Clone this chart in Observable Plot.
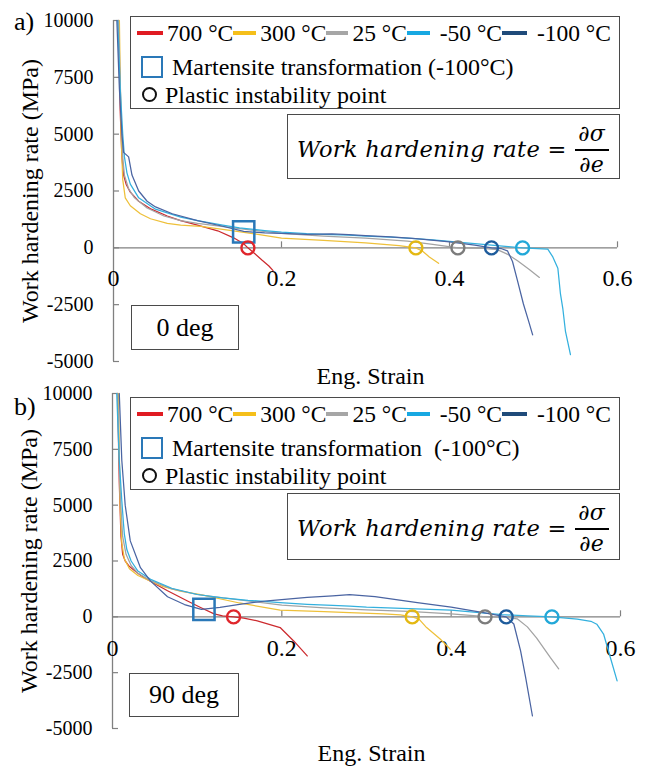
<!DOCTYPE html>
<html><head><meta charset="utf-8">
<script src="https://cdn.jsdelivr.net/npm/d3@7"></script>
<script src="https://cdn.jsdelivr.net/npm/@observablehq/plot@0.6"></script>
<style>
body{margin:0;background:#fff;}
#wrap{position:relative;width:653px;height:767px;font-family:"Liberation Serif","Times New Roman",serif;color:#000;overflow:hidden;}
.pnl{position:absolute;left:0;}
.box{position:absolute;border:1.5px solid #4a4a4a;background:#fff;box-sizing:border-box;}
.sw{position:absolute;height:4px;}
.t{position:absolute;white-space:pre;line-height:26px;height:26px;font-family:"Liberation Serif","Times New Roman",serif;}
.row{position:absolute;display:flex;align-items:center;height:26px;white-space:pre;font-family:"Liberation Serif","Times New Roman",serif;font-size:23.5px;line-height:26px;}
.row .s{height:4px;margin-right:4px;}
.fx{font-family:"DejaVu Serif",serif;font-style:italic;}
</style></head>
<body><div id="wrap"></div>
<script>
// ---------------- data ----------------
const seriesNames = ["700 °C", "300 °C", "25 °C", " -50 °C", " -100 °C"];
const lineColors = ["#cc2a2e", "#eec03a", "#a3a3a3", "#33b0de", "#4a64a2"];
const legendColors = ["#e01b22", "#f5bf1a", "#a6a6a6", "#17a8e2", "#1f4b7a"];
const markerColors = ["#e0262c", "#e4b812", "#7c7c7c", "#22a8d8", "#1e5c9c"];
const xTicks = [0, 0.2, 0.4, 0.6];
const xTickLabels = ["0", "0.2", "0.4", "0.6"];
const yTicks = [10000, 7500, 5000, 2500, 0, -2500, -5000];
const yTickLabels = ["10000", "7500", "5000", "2500", "0", "-2500", "-5000"];
const yTitle = "Work hardening rate (MPa)";
const xTitle = "Eng. Strain";
const legendMartensite = ["Martensite transformation (-100°C)", "Martensite transformation  (-100°C)"];
const legendInstability = "Plastic instability point";
const panelTags = ["a)", "b)"];
const panelDeg = ["0 deg", "90 deg"];

// panel a) 0 deg : [engineering strain, work hardening rate MPa]
const a700 = [[0.006,10000],[0.008,6000],[0.010,4000],[0.012,3200],[0.015,2800],[0.02,2450],[0.03,2050],[0.045,1700],[0.064,1400],[0.08,1200],[0.1,1000],[0.124,750],[0.143,440],[0.155,180],[0.16,0],[0.168,-250],[0.177,-550],[0.185,-800],[0.19,-1000]];
const a300 = [[0.007,10000],[0.009,5000],[0.011,3000],[0.014,2200],[0.02,1850],[0.032,1500],[0.044,1280],[0.064,1080],[0.08,1000],[0.104,940],[0.143,750],[0.17,600],[0.2,430],[0.25,330],[0.3,220],[0.34,100],[0.36,0],[0.368,-150],[0.376,-400],[0.387,-680]];
const a25 = [[0.006,10000],[0.009,6000],[0.011,4000],[0.013,3200],[0.018,2600],[0.025,2200],[0.04,1750],[0.06,1400],[0.08,1200],[0.1,1080],[0.15,840],[0.2,640],[0.25,520],[0.3,430],[0.35,300],[0.38,150],[0.41,0],[0.44,-20],[0.457,-80],[0.47,-300],[0.481,-570],[0.495,-950],[0.507,-1300]];
const aM50 = [[0.005,10000],[0.008,7000],[0.011,5000],[0.013,4000],[0.016,3300],[0.02,2800],[0.03,2200],[0.05,1700],[0.08,1350],[0.1,1200],[0.13,1000],[0.15,880],[0.18,760],[0.2,690],[0.23,620],[0.25,590],[0.28,560],[0.3,520],[0.33,470],[0.35,430],[0.38,350],[0.4,280],[0.43,180],[0.45,120],[0.47,50],[0.487,0],[0.505,-30],[0.517,-60],[0.523,-400],[0.529,-900],[0.532,-2000],[0.535,-2700],[0.538,-3660],[0.544,-4700]];
const aM100 = [[0.004,10000],[0.007,7000],[0.01,5000],[0.012,4200],[0.018,4000],[0.022,3200],[0.03,2500],[0.04,2050],[0.05,1800],[0.07,1500],[0.1,1200],[0.13,950],[0.155,720],[0.18,660],[0.2,640],[0.23,590],[0.26,610],[0.28,580],[0.3,540],[0.33,480],[0.36,400],[0.4,260],[0.43,120],[0.45,0],[0.462,-40],[0.469,-130],[0.475,-600],[0.481,-1450],[0.488,-2470],[0.494,-3200],[0.499,-3830]];
const aInstability = [0.16, 0.36, 0.41, 0.487, 0.45];
const aMartensite = [[0.155, 700]];

// panel b) 90 deg
const b700 = [[0.006,10000],[0.008,6000],[0.01,3600],[0.012,2800],[0.015,2500],[0.02,2250],[0.03,1950],[0.037,1760],[0.05,1480],[0.065,1170],[0.088,720],[0.104,420],[0.12,130],[0.13,40],[0.143,0],[0.155,-60],[0.171,-180],[0.198,-480],[0.214,-1080],[0.23,-1750]];
const b300 = [[0.007,10000],[0.009,5000],[0.011,3300],[0.014,2600],[0.02,2150],[0.03,1850],[0.045,1600],[0.06,1350],[0.08,1150],[0.104,990],[0.15,620],[0.198,300],[0.25,230],[0.28,190],[0.32,130],[0.34,90],[0.354,0],[0.362,-100],[0.371,-480],[0.387,-990],[0.399,-1450]];
const b25 = [[0.006,10000],[0.009,5500],[0.012,3600],[0.016,2800],[0.022,2300],[0.03,1950],[0.045,1620],[0.07,1250],[0.1,1000],[0.15,760],[0.2,520],[0.25,400],[0.3,310],[0.35,240],[0.4,130],[0.43,40],[0.44,0],[0.465,-20],[0.478,-90],[0.49,-450],[0.501,-950],[0.517,-1820],[0.527,-2330]];
const bM50 = [[0.005,10000],[0.008,7000],[0.011,5200],[0.013,4170],[0.014,3700],[0.017,3000],[0.022,2500],[0.03,2050],[0.045,1680],[0.07,1280],[0.1,1000],[0.13,850],[0.16,740],[0.198,640],[0.23,560],[0.26,510],[0.28,480],[0.3,430],[0.35,370],[0.4,300],[0.43,200],[0.46,100],[0.49,40],[0.519,0],[0.549,-100],[0.565,-200],[0.572,-330],[0.58,-770],[0.588,-1820],[0.596,-2870]];
const bM100 = [[0.008,10000],[0.011,7000],[0.015,5000],[0.021,3400],[0.033,2200],[0.045,1600],[0.065,900],[0.085,550],[0.105,330],[0.127,420],[0.15,560],[0.183,720],[0.23,870],[0.26,940],[0.28,990],[0.31,900],[0.36,640],[0.4,430],[0.438,190],[0.465,0],[0.474,-320],[0.482,-1520],[0.488,-2720],[0.496,-4440]];
const bInstability = [0.143, 0.354, 0.44, 0.519, 0.465];
const bMartensite = [[0.108, 330]];

// ---------------- layout ----------------
const serif = "Liberation Serif";
const panels = [
  {top: 0, height: 385, mt: 20, mb: 24, ml: 113, mr: 36, curves: [a700, a300, a25, aM50, aM100], inst: aInstability, mart: aMartensite, xdy: 30, titleDy: 15,
   legTop: 16, fTop: 114, fH: 65, degTop: 305, degH: 45, degLeft: 131, degW: 108, tagTop: 8},
  {top: 385, height: 382, mt: 8, mb: 39, ml: 112, mr: 33, curves: [b700, b300, b25, bM50, bM100], inst: bInstability, mart: bMartensite, xdy: 31, titleDy: 25,
   legTop: 397, fTop: 493, fH: 67, degTop: 673, degH: 44, degLeft: 129, degW: 110, tagTop: 393}
];
const axisGray = "#808080";
const wrap = document.getElementById("wrap");

function el(cls, css, text, parent) {
  const d = document.createElement("div");
  d.className = cls;
  d.style.cssText = css;
  if (text != null) d.textContent = text;
  (parent || wrap).appendChild(d);
  return d;
}

panels.forEach((p, k) => {
  const lineMarks = p.curves.map((c, i) => Plot.line(c, {x: d => d[0], y: d => d[1], stroke: lineColors[i], strokeWidth: 1.25}));
  const instMarks = p.inst.map((s, i) => Plot.dot([s], {x: d => d, y: 0, r: 6.5, stroke: markerColors[i], strokeWidth: 2.4}));
  const chart = Plot.plot({
    width: 653, height: p.height,
    marginTop: p.mt, marginBottom: p.mb, marginLeft: p.ml, marginRight: p.mr,
    x: {domain: [0, 0.6], axis: null},
    y: {domain: [-5000, 10000], axis: null},
    style: {background: "transparent", overflow: "visible", fontFamily: serif, color: "#000"},
    marks: [
      Plot.ruleX([0], {stroke: axisGray, strokeWidth: 1.3}),
      Plot.ruleY([0], {stroke: axisGray, strokeWidth: 1.3}),
      Plot.ruleY(yTicks, {y: d => d, x1: 0, x2: 0, insetRight: -6, stroke: axisGray, strokeWidth: 1.2}),
      Plot.ruleX(xTicks.slice(1), {x: d => d, y1: 0, y2: 0, insetTop: -6, stroke: axisGray, strokeWidth: 1.2}),
      Plot.axisY(yTicks, {anchor: "left", tickSize: 0, tickPadding: 20, tickFormat: d => yTickLabels[yTicks.indexOf(d)], fontSize: 20, fontFamily: serif, label: null}),
      Plot.text(xTicks, {x: d => d, y: 0, dy: p.xdy, text: d => xTickLabels[xTicks.indexOf(d)], fontSize: 24, fontFamily: serif}),
      ...lineMarks,
      Plot.dot(p.mart, {x: d => d[0], y: d => d[1], symbol: "square", r: 12, stroke: "#2a78b8", strokeWidth: 2.5}),
      ...instMarks,
      Plot.text([yTitle], {text: d => d, frameAnchor: "left", textAnchor: "middle", lineAnchor: "middle", rotate: -90, dx: -83, fontSize: 24, fontFamily: serif}),
      Plot.text([xTitle], {text: d => d, frameAnchor: "bottom", textAnchor: "middle", lineAnchor: "middle", dx: 5, dy: p.titleDy, fontSize: 24, fontFamily: serif})
    ]
  });
  const holder = el("pnl", `top:${p.top}px;`);
  holder.appendChild(chart);

  // panel tag
  el("t", `left:14px;top:${p.tagTop}px;font-size:26px;line-height:28px;height:28px;`, panelTags[k]);

  // legend box
  const lt = p.legTop;
  el("box", `left:130px;top:${lt}px;width:490px;height:93px;`);
  const swW = [26, 23, 22, 23, 25];
  const r1 = lt + 17;
  const row = el("row", `left:137px;top:${r1 - 13}px;`);
  seriesNames.forEach((n, i) => {
    el("s", `width:${swW[i]}px;background:${legendColors[i]};`, null, row);
    const sp = document.createElement("span");
    sp.textContent = n;
    row.appendChild(sp);
  });
  const r2 = lt + 51;
  el("box", `left:141px;top:${r2 - 11}px;width:22px;height:22px;border:2.5px solid #2a78b8;background:transparent;`);
  el("t", `left:172px;top:${r2 - 13}px;font-size:24px;`, legendMartensite[k]);
  const r3 = lt + 79;
  el("box", `left:142px;top:${r3 - 8}px;width:15px;height:15px;border:2px solid #111;border-radius:50%;background:transparent;`);
  el("t", `left:165px;top:${r3 - 13}px;font-size:24px;`, legendInstability);

  // formula box
  const ft = p.fTop;
  el("box", `left:287px;top:${ft}px;width:333px;height:${p.fH}px;`);
  const ftxt = el("t fx", `left:297px;top:${ft + 22}px;font-size:22.5px;letter-spacing:0.3px;`);
  ftxt.innerHTML = 'Work hardening rate <span style="font-style:normal">=</span>';
  el("t fx", `left:573px;top:${ft + 7}px;width:37px;text-align:center;font-size:22px;`, "∂σ");
  el("sw", `left:575px;top:${ft + 35}px;width:34px;height:1.6px;background:#000;`);
  el("t fx", `left:573px;top:${ft + 38}px;width:37px;text-align:center;font-size:22px;`, "∂e");

  // deg box
  el("box", `left:${p.degLeft}px;top:${p.degTop}px;width:${p.degW}px;height:${p.degH}px;display:flex;align-items:center;justify-content:center;font-size:26px;`, panelDeg[k]);
});
</script>
</body></html>
